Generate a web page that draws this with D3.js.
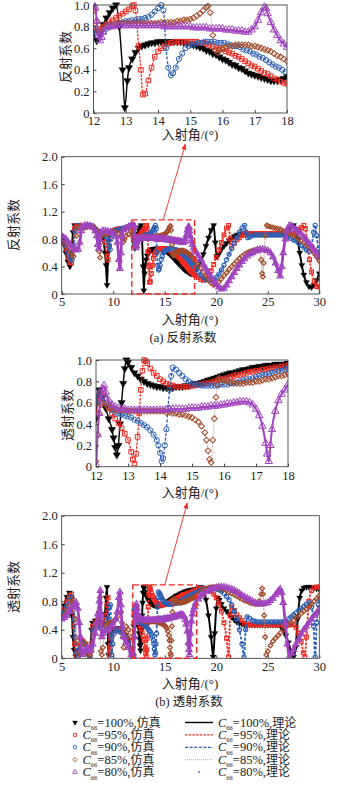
<!DOCTYPE html>
<html><head><meta charset="utf-8">
<script src="https://cdn.jsdelivr.net/npm/d3@7"></script>
<style>body{margin:0;background:#fff}svg{display:block}</style>
</head><body>
<script>
// ---------- DATA ----------
const seriesLabels = ['100%','95%','90%','85%','80%'];
const simWord = '仿真', theoWord = '理论';
const mainXTicks = [5,10,15,20,25,30];
const mainYTicks = [0,0.4,0.8,1.2,1.6,2.0];
const insetXTicks = [12,13,14,15,16,17,18];
const insetYTicks = [0,0.2,0.4,0.6,0.8,1.0];
const zoomBoxA = [11.8,17.9,0,1.08];
const zoomBoxB = [11.9,18.1,0,1.03];

// reflection coefficient [angle, value]
const R100 = [[5,.80],[5.2,.72],[5.4,.60],[5.6,.47],[5.8,.40],[5.95,.60],[6.1,.90],[6.25,1],[6.5,1],[6.75,.98],[7,.97],[7.25,.98],[7.5,1],[7.75,1],[8,.98],[8.25,.93],[8.5,.90],[8.75,.86],[9,.80],[9.2,.60],[9.3,.42],[9.4,.13],[9.5,.60],[9.6,.85],[9.75,.90],[10,.92],[10.25,.93],[10.5,.94],[10.75,.94],[11,.95],[11.25,.96],[11.5,.97],[11.75,.99],[11.9,1],
[12,.75],[12.1,.67],[12.2,.74],[12.3,.82],[12.4,.88],[12.5,.93],[12.6,.97],[12.7,1],[12.8,.80],[12.9,.40],[12.97,.05],[13.05,.30],[13.1,.42],[13.2,.50],[13.3,.56],[13.4,.60],[13.5,.62],[13.6,.63],[13.7,.64],[13.8,.65],[13.9,.65],[14,.66],[14.1,.66],[14.2,.66],[14.3,.66],[14.4,.66],[14.5,.66],[14.6,.66],[14.7,.66],[14.8,.65],[14.9,.65],[15,.64],[15.1,.63],[15.2,.62],[15.3,.61],[15.4,.60],[15.5,.58],[15.6,.57],[15.7,.55],[15.8,.54],[15.9,.52],[16,.50],[16.1,.49],[16.2,.47],[16.3,.45],[16.4,.44],[16.5,.42],[16.6,.41],[16.7,.39],[16.8,.37],[16.9,.36],[17,.35],[17.1,.34],[17.2,.33],[17.3,.32],[17.4,.31],[17.5,.30],[17.6,.30],[17.7,.30],[17.8,.31],[17.9,.32],[18,.34],
[18.25,.40],[18.5,.47],[18.75,.58],[19,.70],[19.25,.82],[19.5,.93],[19.75,1],[19.9,.75],[20.05,.55],[20.25,.58],[20.5,.65],[20.75,.70],[21,.74],[21.25,.78],[21.5,.81],[21.75,.84],[22,.86],[22.25,.87],[22.5,.88],[22.75,.88],[23,.88],[23.25,.88],[23.5,.88],[23.75,.88],[24,.88],[24.25,.88],[24.5,.88],[24.75,.88],[25,.88],[25.25,.88],[25.5,.88],[25.75,.88],[26,.88],[26.25,.88],[26.5,.88],[26.75,.90],[27,.93],[27.25,.97],[27.5,1],[27.7,.95],[27.9,.80],[28.1,.60],[28.3,.42],[28.5,.28],[28.75,.17],[29,.11],[29.25,.10],[29.5,.13],[29.75,.20],[30,.30]];

const R95 = [[5,.80],[5.2,.75],[5.4,.65],[5.6,.53],[5.8,.46],[5.95,.45],[6.1,.70],[6.25,.95],[6.4,1],[6.6,1],[6.8,.98],[7,.97],[7.25,.98],[7.5,1],[7.75,1],[8,.98],[8.25,.94],[8.5,.91],[8.75,.88],[9,.85],[9.25,.75],[9.4,.55],[9.5,.50],[9.6,.70],[9.75,.88],[10,.92],[10.25,.94],[10.5,.95],[10.75,.95],[11,.96],[11.25,.97],[11.5,.98],[11.75,1],[11.9,.85],
[12,.79],[12.1,.76],[12.2,.78],[12.3,.80],[12.4,.82],[12.5,.84],[12.6,.86],[12.7,.88],[12.8,.90],[12.9,.92],[13,.94],[13.1,.96],[13.2,.99],[13.25,1],[13.3,.95],[13.4,.62],[13.47,.40],[13.53,.17],[13.6,.18],[13.7,.30],[13.8,.42],[13.9,.52],[14,.57],[14.1,.60],[14.2,.62],[14.3,.64],[14.4,.65],[14.5,.66],[14.6,.66],[14.7,.66],[14.8,.66],[14.9,.66],[15,.66],[15.1,.66],[15.2,.66],[15.3,.65],[15.4,.65],[15.5,.64],[15.6,.63],[15.7,.62],[15.8,.61],[15.9,.60],[16,.59],[16.1,.57],[16.2,.56],[16.3,.55],[16.4,.53],[16.5,.52],[16.6,.50],[16.7,.48],[16.8,.46],[16.9,.44],[17,.43],[17.1,.41],[17.2,.39],[17.3,.37],[17.4,.36],[17.5,.34],[17.6,.32],[17.7,.31],[17.8,.29],[17.9,.28],[18,.27],
[18.25,.24],[18.5,.21],[18.75,.20],[19,.22],[19.25,.27],[19.5,.34],[19.75,.43],[20,.53],[20.25,.64],[20.5,.75],[20.75,.86],[21,.96],[21.2,1],[21.35,.80],[21.5,.70],[21.75,.74],[22,.79],[22.25,.82],[22.5,.85],[22.75,.87],[23,.88],[23.25,.88],[23.5,.88],[23.75,.88],[24,.88],[24.25,.88],[24.5,.88],[24.75,.88],[25,.88],[25.25,.88],[25.5,.88],[25.75,.88],[26,.88],[26.25,.88],[26.5,.88],[26.75,.88],[27,.88],[27.25,.88],[27.5,.88],[27.75,.90],[28,.94],[28.25,.97],[28.5,1],[28.65,.95],[28.85,.75],[29.05,.50],[29.25,.32],[29.5,.18],[29.75,.11],[30,.10]];

const R90 = [[5,.82],[5.2,.77],[5.4,.70],[5.6,.60],[5.8,.52],[6,.50],[6.15,.70],[6.3,.92],[6.5,1],[6.75,1],[7,.97],[7.25,.97],[7.5,.99],[7.75,1],[8,.99],[8.25,.95],[8.5,.92],[8.75,.90],[9,.88],[9.25,.85],[9.4,.82],[9.5,.78],[9.6,.70],[9.7,.65],[9.8,.80],[10,.90],[10.25,.93],[10.5,.94],[10.75,.95],[11,.96],[11.25,.97],[11.5,.98],[11.75,1],[11.9,.88],
[12,.78],[12.1,.74],[12.2,.73],[12.3,.75],[12.4,.78],[12.5,.80],[12.6,.81],[12.7,.82],[12.8,.83],[12.9,.84],[13,.85],[13.1,.85],[13.2,.86],[13.3,.86],[13.4,.87],[13.5,.87],[13.6,.88],[13.7,.89],[13.8,.91],[13.9,.94],[14,.97],[14.1,1],[14.17,.95],[14.25,.60],[14.32,.42],[14.4,.35],[14.47,.37],[14.55,.42],[14.65,.50],[14.75,.55],[14.85,.60],[14.95,.62],[15.05,.63],[15.15,.64],[15.25,.65],[15.35,.65],[15.45,.66],[15.55,.66],[15.65,.66],[15.75,.66],[15.85,.65],[15.95,.65],[16.05,.65],[16.15,.64],[16.25,.63],[16.35,.62],[16.45,.62],[16.55,.61],[16.65,.59],[16.75,.58],[16.85,.57],[16.95,.55],[17.05,.54],[17.15,.52],[17.25,.51],[17.35,.49],[17.45,.47],[17.55,.45],[17.65,.43],[17.75,.42],[17.85,.40],[17.95,.38],[18.05,.36],
[18.25,.33],[18.5,.28],[18.75,.24],[19,.21],[19.25,.20],[19.5,.20],[19.75,.21],[20,.24],[20.25,.29],[20.5,.35],[20.75,.42],[21,.50],[21.25,.58],[21.5,.66],[21.75,.74],[22,.82],[22.25,.90],[22.5,.96],[22.75,1],[22.9,.90],[23.05,.82],[23.25,.83],[23.5,.85],[23.75,.86],[24,.86],[24.25,.86],[24.5,.86],[24.75,.86],[25,.86],[25.25,.86],[25.5,.86],[25.75,.86],[26,.86],[26.25,.86],[26.5,.86],[26.75,.85],[27,.83],[27.25,.81],[27.5,.79],[27.75,.77],[28,.74],[28.25,.71],[28.5,.68],[28.75,.64],[29,.62],[29.25,.70],[29.45,.90],[29.6,1],[29.75,.85],[29.9,.65],[30,.55]];

const R85 = [[5,.83],[5.2,.80],[5.4,.75],[5.6,.68],[5.8,.61],[6,.56],[6.15,.55],[6.3,.65],[6.45,.85],[6.6,.97],[6.8,1],[7,.98],[7.25,.97],[7.5,.98],[7.75,1],[8,.99],[8.25,.96],[8.4,.92],[8.55,.80],[8.65,.62],[8.72,.53],[8.8,.75],[8.9,.85],[9,.86],[9.25,.87],[9.5,.88],[9.75,.89],[10,.90],[10.25,.90],[10.5,.88],[10.75,.85],[10.9,.80],[11,.76],[11.1,.80],[11.25,.85],[11.5,.87],[11.75,.90],[11.9,.95],
[12,.97],[12.05,.95],[12.1,.85],[12.15,.76],[12.25,.78],[12.35,.81],[12.5,.82],[12.6,.82],[12.7,.83],[12.8,.83],[12.9,.83],[13,.83],[13.1,.83],[13.2,.83],[13.3,.83],[13.4,.83],[13.5,.83],[13.6,.83],[13.7,.83],[13.8,.83],[13.9,.83],[14,.83],[14.1,.84],[14.2,.84],[14.3,.84],[14.4,.84],[14.5,.84],[14.6,.85],[14.7,.85],[14.8,.86],[14.9,.86],[15,.87],[15.1,.88],[15.2,.90],[15.3,.92],[15.4,.95],[15.5,.98],[15.55,.99],[15.62,.93],[15.7,.72],[15.78,.58],[15.85,.56],[15.92,.58],[16,.60],[16.1,.61],[16.2,.62],[16.3,.62],[16.4,.63],[16.5,.63],[16.6,.63],[16.7,.63],[16.8,.63],[16.9,.62],[17,.62],[17.1,.61],[17.2,.60],[17.3,.59],[17.4,.58],[17.5,.57],[17.6,.55],[17.7,.53],[17.8,.52],[17.9,.50],[18,.48],
[18.25,.43],[18.5,.38],[18.75,.32],[19,.26],[19.25,.20],[19.5,.16],[19.75,.13],[20,.14],[20.25,.17],[20.5,.22],[20.75,.27],[21,.31],[21.25,.36],[21.5,.40],[21.75,.44],[22,.48],[22.25,.52],[22.5,.55],[22.75,.58],[23,.60],[23.25,.62],[23.5,.63],[23.75,.64],[24,.65],[24.2,.64],[24.35,.50],[24.45,.30],[24.52,.25],[24.6,.45],[24.75,.85],[24.9,1],[25,.99],[25.25,.98],[25.5,.97],[25.75,.96],[26,.95],[26.25,.94],[26.5,.92],[26.75,.91],[27,.89],[27.25,.87],[27.5,.85],[27.75,.83],[28,.80],[28.25,.78],[28.5,.75],[28.75,.72],[29,.68],[29.25,.64],[29.5,.59],[29.75,.54],[30,.48]];

const R80 = [[5,.84],[5.2,.82],[5.4,.80],[5.6,.76],[5.8,.72],[6,.68],[6.2,.65],[6.4,.64],[6.6,.65],[6.75,.75],[6.9,.92],[7,.98],[7.25,1],[7.5,1],[7.75,.99],[8,.97],[8.25,.92],[8.4,.85],[8.5,.72],[8.6,.66],[8.7,.80],[8.8,.90],[9,.92],[9.25,.92],[9.5,.91],[9.75,.90],[10,.88],[10.25,.84],[10.4,.75],[10.55,.50],[10.65,.37],[10.75,.60],[10.85,.85],[11,.93],[11.25,.96],[11.5,.98],[11.75,1],
[12,1],[12.05,.98],[12.1,.85],[12.15,.72],[12.2,.67],[12.25,.70],[12.3,.75],[12.4,.79],[12.5,.80],[12.6,.80],[12.7,.81],[12.8,.81],[12.9,.81],[13,.81],[13.1,.81],[13.2,.81],[13.3,.81],[13.4,.81],[13.5,.81],[13.6,.81],[13.7,.81],[13.8,.81],[13.9,.81],[14,.81],[14.1,.81],[14.2,.80],[14.3,.80],[14.4,.80],[14.5,.80],[14.6,.80],[14.7,.80],[14.8,.80],[14.9,.80],[15,.80],[15.1,.79],[15.2,.79],[15.3,.79],[15.4,.79],[15.5,.79],[15.6,.78],[15.7,.78],[15.8,.78],[15.9,.78],[16,.78],[16.1,.77],[16.2,.77],[16.3,.77],[16.4,.76],[16.5,.76],[16.6,.76],[16.7,.75],[16.8,.75],[16.9,.77],[17,.80],[17.1,.86],[17.2,.93],[17.3,.98],[17.35,.97],[17.4,.92],[17.5,.84],[17.6,.77],[17.7,.72],[17.8,.67],[17.9,.64],[18,.61],
[18.25,.56],[18.5,.50],[18.75,.43],[19,.37],[19.25,.31],[19.5,.25],[19.75,.19],[20,.14],[20.25,.10],[20.5,.07],[20.75,.08],[21,.13],[21.25,.19],[21.5,.25],[21.75,.31],[22,.37],[22.25,.42],[22.5,.47],[22.75,.51],[23,.55],[23.25,.58],[23.5,.60],[23.75,.62],[24,.64],[24.25,.65],[24.5,.65],[24.75,.64],[25,.63],[25.25,.60],[25.5,.54],[25.75,.45],[26,.34],[26.2,.26],[26.35,.40],[26.5,.60],[26.7,.80],[26.9,.93],[27.1,1],[27.3,.99],[27.5,.96],[27.75,.93],[28,.90],[28.25,.87],[28.5,.83],[28.75,.79],[29,.74],[29.25,.69],[29.5,.64],[29.75,.60],[30,.55]];

// transmission coefficient [angle, value]
const T100 = [[5,.62],[5.25,.74],[5.5,.86],[5.75,.92],[5.9,.85],[6,.60],[6.1,.30],[6.2,.12],[6.35,.03],[6.5,.08],[6.75,.18],[7,.24],[7.25,.20],[7.5,.10],[7.65,.02],[7.8,.15],[7.9,.40],[8,.50],[8.25,.53],[8.5,.52],[8.75,.50],[9,.48],[9.2,.62],[9.3,.85],[9.4,1],[9.45,.60],[9.5,.20],[9.55,.05],[9.65,.20],[9.8,.35],[10,.40],[10.25,.42],[10.5,.42],[10.75,.40],[11,.38],[11.25,.33],[11.5,.25],[11.75,.12],[11.9,.03],
[12,.45],[12.05,.65],[12.1,.72],[12.2,.65],[12.3,.55],[12.4,.45],[12.5,.35],[12.55,.27],[12.6,.18],[12.65,.11],[12.7,.20],[12.75,.40],[12.8,.60],[12.85,.78],[12.9,.92],[12.95,1],[13,.98],[13.1,.93],[13.2,.88],[13.3,.85],[13.4,.82],[13.5,.80],[13.6,.78],[13.7,.77],[13.8,.76],[13.9,.75],[14,.75],[14.1,.74],[14.2,.74],[14.3,.74],[14.4,.74],[14.5,.75],[14.6,.75],[14.7,.75],[14.8,.76],[14.9,.76],[15,.77],[15.1,.78],[15.2,.78],[15.3,.79],[15.4,.80],[15.5,.81],[15.6,.82],[15.7,.83],[15.8,.84],[15.9,.85],[16,.86],[16.1,.87],[16.2,.88],[16.3,.88],[16.4,.89],[16.5,.90],[16.6,.91],[16.7,.91],[16.8,.92],[16.9,.93],[17,.93],[17.1,.94],[17.2,.94],[17.3,.95],[17.4,.95],[17.5,.95],[17.6,.96],[17.7,.96],[17.8,.96],[17.9,.96],[18,.97],
[18.25,.98],[18.5,1],[18.75,.96],[19,.82],[19.25,.60],[19.5,.30],[19.7,.02],[19.85,.35],[20,.70],[20.15,.85],[20.3,.82],[20.5,.76],[20.75,.70],[21,.66],[21.25,.62],[21.5,.58],[21.75,.54],[22,.51],[22.25,.49],[22.5,.48],[22.75,.47],[23,.47],[23.25,.47],[23.5,.47],[23.75,.47],[24,.47],[24.25,.47],[24.5,.47],[24.75,.47],[25,.47],[25.25,.47],[25.5,.47],[25.75,.47],[26,.47],[26.25,.45],[26.5,.40],[26.75,.32],[27,.22],[27.25,.10],[27.5,.02],[27.7,.15],[27.9,.55],[28.1,.85],[28.3,.95],[28.5,.99],[28.75,1],[29,1],[29.25,1],[29.5,.99],[29.75,.98],[30,.97]];

const T95 = [[5,.60],[5.25,.68],[5.5,.80],[5.75,.88],[5.95,.90],[6.05,.75],[6.15,.45],[6.25,.20],[6.4,.05],[6.6,.06],[6.8,.18],[7,.24],[7.25,.20],[7.5,.08],[7.7,.02],[7.85,.20],[8,.45],[8.25,.50],[8.5,.48],[8.75,.47],[9,.50],[9.25,.60],[9.4,.75],[9.5,.85],[9.55,.40],[9.6,.05],[9.7,.15],[9.85,.30],[10,.38],[10.25,.40],[10.5,.40],[10.75,.38],[11,.36],[11.25,.32],[11.5,.25],[11.75,.10],[11.85,.02],
[12,.50],[12.05,.60],[12.1,.66],[12.15,.70],[12.2,.67],[12.3,.60],[12.4,.55],[12.5,.50],[12.6,.45],[12.7,.41],[12.8,.36],[12.9,.31],[13,.25],[13.1,.14],[13.15,.07],[13.2,.03],[13.25,.12],[13.3,.28],[13.35,.50],[13.4,.72],[13.45,.90],[13.5,1],[13.55,.99],[13.6,.97],[13.7,.92],[13.8,.88],[13.9,.85],[14,.82],[14.1,.80],[14.2,.78],[14.3,.77],[14.4,.76],[14.5,.75],[14.6,.75],[14.7,.75],[14.8,.75],[14.9,.75],[15,.76],[15.1,.76],[15.2,.77],[15.3,.77],[15.4,.78],[15.5,.78],[15.6,.79],[15.7,.80],[15.8,.81],[15.9,.82],[16,.82],[16.1,.83],[16.2,.84],[16.3,.85],[16.4,.86],[16.5,.86],[16.6,.87],[16.7,.88],[16.8,.89],[16.9,.89],[17,.90],[17.1,.90],[17.2,.91],[17.3,.91],[17.4,.92],[17.5,.92],[17.6,.93],[17.7,.93],[17.8,.94],[17.9,.94],[18,.95],
[18.25,.97],[18.5,.98],[18.75,.98],[19,.97],[19.25,.96],[19.5,.94],[19.75,.90],[20,.85],[20.25,.77],[20.5,.66],[20.75,.50],[21,.28],[21.2,.02],[21.35,.60],[21.5,.72],[21.75,.67],[22,.61],[22.25,.57],[22.5,.53],[22.75,.49],[23,.48],[23.25,.47],[23.5,.47],[23.75,.47],[24,.47],[24.25,.47],[24.5,.47],[24.75,.47],[25,.47],[25.25,.47],[25.5,.47],[25.75,.47],[26,.47],[26.25,.47],[26.5,.47],[26.75,.47],[27,.47],[27.25,.47],[27.5,.47],[27.75,.43],[28,.35],[28.25,.24],[28.45,.08],[28.6,.02],[28.75,.30],[29,.80],[29.25,.95],[29.5,.99],[29.75,1],[30,1]];

const T90 = [[5,.58],[5.25,.65],[5.5,.73],[5.75,.82],[6,.86],[6.1,.78],[6.2,.55],[6.3,.30],[6.45,.08],[6.6,.03],[6.8,.14],[7,.22],[7.25,.20],[7.5,.10],[7.75,.03],[7.9,.15],[8.05,.40],[8.25,.45],[8.5,.43],[8.75,.42],[9,.43],[9.25,.48],[9.5,.55],[9.65,.72],[9.72,.75],[9.8,.30],[9.85,.05],[9.95,.20],[10.1,.35],[10.25,.40],[10.5,.38],[10.75,.36],[11,.33],[11.25,.30],[11.5,.22],[11.75,.08],[11.85,.02],
[12,.60],[12.05,.70],[12.1,.68],[12.2,.65],[12.3,.60],[12.4,.56],[12.5,.53],[12.6,.51],[12.7,.50],[12.8,.49],[12.9,.48],[13,.47],[13.1,.46],[13.2,.44],[13.3,.43],[13.4,.41],[13.5,.39],[13.6,.37],[13.7,.34],[13.8,.30],[13.9,.25],[13.95,.20],[14,.13],[14.05,.05],[14.1,.08],[14.15,.20],[14.2,.35],[14.25,.55],[14.3,.72],[14.35,.85],[14.4,.93],[14.5,.91],[14.6,.88],[14.7,.85],[14.8,.82],[14.9,.80],[15,.78],[15.1,.77],[15.2,.77],[15.3,.76],[15.4,.76],[15.5,.76],[15.6,.76],[15.7,.76],[15.8,.76],[15.9,.77],[16,.77],[16.1,.77],[16.2,.78],[16.3,.78],[16.4,.79],[16.5,.80],[16.6,.81],[16.7,.82],[16.8,.82],[16.9,.83],[17,.84],[17.1,.85],[17.2,.86],[17.3,.86],[17.4,.87],[17.5,.88],[17.6,.89],[17.7,.90],[17.8,.90],[17.9,.91],[18,.92],
[18.25,.94],[18.5,.96],[18.75,.97],[19,.98],[19.25,.98],[19.5,.98],[19.75,.98],[20,.97],[20.25,.96],[20.5,.94],[20.75,.91],[21,.87],[21.25,.82],[21.5,.75],[21.75,.66],[22,.55],[22.25,.40],[22.5,.20],[22.7,.02],[22.85,.40],[23,.58],[23.25,.56],[23.5,.53],[23.75,.52],[24,.51],[24.25,.51],[24.5,.51],[24.75,.51],[25,.51],[25.25,.51],[25.5,.51],[25.75,.51],[26,.51],[26.25,.51],[26.5,.51],[26.75,.52],[27,.55],[27.25,.58],[27.5,.61],[27.75,.64],[28,.67],[28.25,.70],[28.5,.73],[28.75,.76],[29,.78],[29.25,.72],[29.45,.45],[29.6,.02],[29.75,.50],[29.9,.75],[30,.83]];

const T85 = [[5,.56],[5.25,.60],[5.5,.66],[5.75,.73],[6,.80],[6.15,.82],[6.25,.75],[6.35,.55],[6.5,.25],[6.65,.08],[6.8,.05],[7,.18],[7.25,.22],[7.5,.14],[7.75,.04],[7.9,.10],[8.1,.35],[8.3,.45],[8.45,.55],[8.6,.65],[8.7,.85],[8.75,.50],[8.8,.10],[8.9,.05],[9,.15],[9.25,.45],[9.5,.50],[9.75,.50],[10,.52],[10.25,.55],[10.5,.60],[10.75,.65],[10.85,.50],[10.95,.30],[11,.15],[11.1,.35],[11.25,.45],[11.5,.40],[11.75,.30],[11.9,.15],
[12,.05],[12.05,.30],[12.1,.50],[12.15,.58],[12.2,.60],[12.3,.58],[12.4,.56],[12.5,.55],[12.6,.54],[12.7,.53],[12.8,.53],[12.9,.53],[13,.52],[13.1,.52],[13.2,.52],[13.3,.52],[13.4,.52],[13.5,.52],[13.6,.52],[13.7,.52],[13.8,.52],[13.9,.52],[14,.52],[14.1,.52],[14.2,.51],[14.3,.51],[14.4,.50],[14.5,.50],[14.6,.49],[14.7,.49],[14.8,.48],[14.9,.47],[15,.46],[15.1,.44],[15.2,.42],[15.3,.38],[15.4,.32],[15.45,.25],[15.5,.15],[15.55,.07],[15.6,.04],[15.65,.25],[15.7,.45],[15.75,.65],[15.8,.77],[15.85,.83],[15.9,.82],[16,.81],[16.1,.80],[16.2,.79],[16.3,.79],[16.4,.78],[16.5,.78],[16.6,.78],[16.7,.79],[16.8,.79],[16.9,.79],[17,.80],[17.1,.80],[17.2,.81],[17.3,.82],[17.4,.82],[17.5,.83],[17.6,.84],[17.7,.85],[17.8,.85],[17.9,.86],[18,.87],
[18.25,.90],[18.5,.93],[18.75,.96],[19,.98],[19.25,.99],[19.5,1],[19.75,1],[20,1],[20.25,.99],[20.5,.98],[20.75,.97],[21,.95],[21.25,.93],[21.5,.91],[21.75,.89],[22,.87],[22.25,.85],[22.5,.83],[22.75,.81],[23,.80],[23.25,.78],[23.5,.77],[23.75,.76],[24,.76],[24.2,.80],[24.35,.90],[24.45,.98],[24.55,.90],[24.65,.60],[24.75,.30],[24.85,.05],[25,.10],[25.25,.18],[25.5,.24],[25.75,.28],[26,.32],[26.25,.36],[26.5,.40],[26.75,.44],[27,.47],[27.25,.50],[27.5,.53],[27.75,.57],[28,.60],[28.25,.63],[28.5,.66],[28.75,.69],[29,.72],[29.25,.76],[29.5,.80],[29.75,.84],[30,.88]];

const T80 = [[5,.55],[5.25,.57],[5.5,.60],[5.75,.65],[6,.72],[6.25,.76],[6.4,.78],[6.55,.70],[6.7,.50],[6.8,.30],[6.9,.12],[7,.05],[7.25,.10],[7.5,.15],[7.75,.10],[8,.20],[8.25,.35],[8.4,.50],[8.5,.62],[8.65,.80],[8.75,.95],[8.82,.60],[8.9,.30],[9,.35],[9.25,.38],[9.5,.40],[9.75,.43],[10,.47],[10.25,.55],[10.4,.65],[10.55,.85],[10.65,.93],[10.75,.75],[10.85,.45],[11,.30],[11.25,.22],[11.5,.15],[11.75,.05],[11.9,.02],
[12,.02],[12.05,.30],[12.1,.50],[12.15,.65],[12.2,.73],[12.25,.76],[12.3,.70],[12.4,.62],[12.5,.58],[12.6,.56],[12.7,.55],[12.8,.54],[12.9,.54],[13,.53],[13.1,.53],[13.2,.53],[13.3,.53],[13.4,.53],[13.5,.53],[13.6,.53],[13.7,.53],[13.8,.53],[13.9,.53],[14,.53],[14.1,.53],[14.2,.53],[14.3,.54],[14.4,.54],[14.5,.54],[14.6,.54],[14.7,.54],[14.8,.54],[14.9,.55],[15,.55],[15.1,.55],[15.2,.55],[15.3,.56],[15.4,.56],[15.5,.56],[15.6,.57],[15.7,.57],[15.8,.57],[15.9,.58],[16,.58],[16.1,.59],[16.2,.59],[16.3,.60],[16.4,.60],[16.5,.61],[16.6,.61],[16.7,.61],[16.8,.60],[16.9,.58],[17,.54],[17.1,.48],[17.2,.38],[17.3,.22],[17.35,.12],[17.4,.05],[17.45,.20],[17.5,.35],[17.6,.52],[17.7,.62],[17.8,.68],[17.9,.72],[18,.77],
[18.25,.83],[18.5,.87],[18.75,.90],[19,.93],[19.25,.95],[19.5,.97],[19.75,.98],[20,.99],[20.25,1],[20.5,1],[20.75,1],[21,.99],[21.25,.98],[21.5,.97],[21.75,.95],[22,.93],[22.25,.91],[22.5,.88],[22.75,.86],[23,.84],[23.25,.82],[23.5,.80],[23.75,.78],[24,.77],[24.25,.76],[24.5,.76],[24.75,.77],[25,.78],[25.25,.81],[25.5,.84],[25.75,.89],[26,.94],[26.2,.97],[26.35,.92],[26.5,.78],[26.7,.50],[26.9,.20],[27.1,.02],[27.3,.07],[27.5,.12],[27.75,.20],[28,.27],[28.25,.34],[28.5,.40],[28.75,.45],[29,.50],[29.25,.55],[29.5,.60],[29.75,.64],[30,.68]];

const reflSeries = [R100,R95,R90,R85,R80];
const transSeries = [T100,T95,T90,T85,T80];

// ---------- STYLE ----------
const colors = ['#000000','#ee2a22','#2c5fb4','#a24a2a','#a043bf'];
const lineStyles = [
  {w:1.3, dash:null, color:'#000000', cap:'butt'},
  {w:1.2, dash:'2.5,1.2', color:'#ee2a22', cap:'butt'},
  {w:1.2, dash:'3,1.6', color:'#2c5fb4', cap:'butt'},
  {w:0.8, dash:'1,1', color:'#b08a7c', cap:'butt'},
  {w:2.0, dash:'0.1,1.5', color:'#a043bf', cap:'round'}
];
const symTypes = [d3.symbolTriangle, d3.symbolSquare, d3.symbolCircle, d3.symbolSquare, d3.symbolTriangle];
const symRot = [180,0,0,45,0];
const symFilled = [true,false,false,false,false];
const SERIF = "'Liberation Serif','Times New Roman','Noto Sans CJK SC',serif";
const CJK = "'Noto Sans CJK SC','Liberation Serif',sans-serif";

const W = 357, H = 789;
const svg = d3.select('body').append('svg').attr('width',W).attr('height',H)
  .attr('font-family',SERIF);
svg.append('rect').attr('width',W).attr('height',H).attr('fill','#fff');
const defs = svg.append('defs');
defs.append('marker').attr('id','arr').attr('viewBox','0 0 10 10').attr('refX',9).attr('refY',5)
  .attr('markerWidth',7).attr('markerHeight',7).attr('orient','auto-start-reverse')
  .append('path').attr('d','M0,1 L10,5 L0,9 Z').attr('fill','#ee2a22');

let clipId = 0;
function panel(cfg){
  const x = d3.scaleLinear().domain(cfg.xd).range([cfg.left,cfg.right]);
  const y = d3.scaleLinear().domain(cfg.yd).range([cfg.bottom,cfg.top]);
  const id = 'clip'+(clipId++);
  defs.append('clipPath').attr('id',id).append('rect')
    .attr('x',cfg.left).attr('y',cfg.top-3).attr('width',cfg.right-cfg.left).attr('height',cfg.bottom-cfg.top+3);
  const g = svg.append('g');
  const plot = g.append('g').attr('clip-path',`url(#${id})`);
  const line = d3.line().x(d=>x(d[0])).y(d=>y(d[1])).curve(d3.curveMonotoneX);
  const [xa,xb] = cfg.xd;
  cfg.data.forEach((ser,i)=>{
    const pts = ser.filter(d=>d[0]>=xa-0.3 && d[0]<=xb+0.3);
    const ls = lineStyles[i];
    plot.append('path').attr('d',line(pts)).attr('fill','none')
      .attr('stroke',ls.color).attr('stroke-width',ls.w*cfg.lwScale)
      .attr('stroke-dasharray',ls.dash).attr('stroke-linecap',ls.cap);
    const sym = d3.symbol().type(symTypes[i]).size(cfg.mSize*(i===3?0.8:1)*(i===0||i===4?1.15:1));
    plot.selectAll(null).data(pts.filter(d=>d[0]>=xa && d[0]<=xb)).join('path')
      .attr('d',sym)
      .attr('transform',d=>`translate(${x(d[0])},${y(d[1])}) rotate(${symRot[i]})`)
      .attr('fill',symFilled[i]?colors[i]:'none')
      .attr('stroke',colors[i]).attr('stroke-width',symFilled[i]?0.3:cfg.mStroke);
  });
  // frame & axes
  g.append('rect').attr('x',cfg.left).attr('y',cfg.top).attr('width',cfg.right-cfg.left)
    .attr('height',cfg.bottom-cfg.top).attr('fill','none').attr('stroke','#444').attr('stroke-width',0.9);
  const fmt = d=> d===0?'0':d3.format('.1f')(d);
  const ax = g.append('g').attr('transform',`translate(0,${cfg.bottom})`)
    .call(d3.axisBottom(x).tickValues(cfg.xt).tickSize(-3).tickPadding(cfg.xpad).tickFormat(d3.format('d')));
  const ay = g.append('g').attr('transform',`translate(${cfg.left},0)`)
    .call(d3.axisLeft(y).tickValues(cfg.yt).tickSize(-3).tickPadding(4).tickFormat(fmt));
  [ax,ay].forEach(a=>{
    a.select('.domain').remove();
    a.selectAll('line').attr('stroke','#444');
    a.selectAll('text').attr('font-family',SERIF).attr('font-size',12.5).attr('fill','#222');
  });
  // axis titles
  const xl = g.append('text').attr('x',cfg.xlx).attr('y',cfg.xly).attr('text-anchor','middle')
    .attr('font-size',13).attr('fill','#222');
  xl.append('tspan').attr('font-family',CJK).text('入射角');
  xl.append('tspan').attr('font-family',SERIF).text('/(°)');
  g.append('text').attr('transform',`translate(${cfg.ylx},${cfg.yly}) rotate(-90)`)
    .attr('text-anchor','middle').attr('dominant-baseline','central')
    .attr('font-family',CJK).attr('font-size',13).attr('fill','#222').text(cfg.ylabel);
  return {x,y,g};
}

// ---------- PANELS ----------
const insetA = panel({left:93.5,right:287,top:5,bottom:113,xd:[12,18],yd:[0,1],xt:insetXTicks,yt:insetYTicks,
  data:reflSeries,mSize:21,mStroke:1,lwScale:1.1,xpad:3,xlx:190,xly:139,ylx:64,yly:57,ylabel:'反射系数'});
const mainA = panel({left:61.7,right:319.3,top:156.7,bottom:294,xd:[5,30],yd:[0,2],xt:mainXTicks,yt:mainYTicks,
  data:reflSeries,mSize:14,mStroke:1.2,lwScale:1.5,xpad:3,xlx:190,xly:324,ylx:12,yly:225,ylabel:'反射系数'});
const insetB = panel({left:96,right:288,top:360,bottom:466.7,xd:[12,18],yd:[0,1],xt:insetXTicks,yt:insetYTicks,
  data:transSeries,mSize:21,mStroke:1,lwScale:1.1,xpad:4,xlx:190,xly:497,ylx:66,yly:415,ylabel:'透射系数'});
const mainB = panel({left:61.7,right:319.3,top:515.7,bottom:658.3,xd:[5,30],yd:[0,2],xt:mainXTicks,yt:mainYTicks,
  data:transSeries,mSize:14,mStroke:1.2,lwScale:1.5,xpad:4,xlx:190,xly:688,ylx:12,yly:587,ylabel:'透射系数'});

// zoom boxes and arrows
function zoomBox(p, b, inset, ax, tipY){
  const x0=p.x(b[0]), x1=p.x(b[1]), y0=p.y(b[2]), y1=p.y(b[3]);
  svg.append('rect').attr('x',x0).attr('y',y1).attr('width',x1-x0).attr('height',y0-y1)
    .attr('fill','none').attr('stroke','#ee2a22').attr('stroke-width',1.4).attr('stroke-dasharray','6,3');
  svg.append('line').attr('x1',p.x(ax)).attr('y1',y1).attr('x2',inset.x(14.85)).attr('y2',tipY)
    .attr('stroke','#ee2a22').attr('stroke-width',0.9).attr('marker-end','url(#arr)');
}
zoomBox(mainA, zoomBoxA, insetA, 14.85, 144);
zoomBox(mainB, zoomBoxB, insetB, 15.0, 503);

// captions
function caption(cx, cy, tag, word){
  const t = svg.append('text').attr('x',cx).attr('y',cy).attr('text-anchor','middle').attr('font-size',12.5).attr('fill','#222');
  t.append('tspan').attr('font-family',SERIF).text(tag+' ');
  t.append('tspan').attr('font-family',CJK).text(word);
}
caption(183,342,'(a)','反射系数');
caption(189,706,'(b)','透射系数');

// ---------- LEGEND ----------
const legY = [722.5,734.9,747.3,759.7,772.1];
const leg = svg.append('g');
function legText(x, y, pct, word){
  const t = leg.append('text').attr('x',x).attr('y',y+4).attr('font-size',12.5).attr('fill','#222').attr('font-family',SERIF);
  t.append('tspan').attr('font-style','italic').text('C');
  t.append('tspan').attr('font-size',6.5).attr('dy',3.5).text('66');
  t.append('tspan').attr('dy',-3.5).text('='+pct+',');
  t.append('tspan').attr('font-family',CJK).attr('font-size',12).text(word);
}
seriesLabels.forEach((lab,i)=>{
  const yy = legY[i];
  const sym = d3.symbol().type(symTypes[i]).size(i===0?11:9);
  leg.append('path').attr('d',sym).attr('transform',`translate(75,${yy}) rotate(${symRot[i]})`)
    .attr('fill',symFilled[i]?colors[i]:'none').attr('stroke',colors[i]).attr('stroke-width',symFilled[i]?0.3:0.9);
  legText(82.5, yy, lab, simWord);
  const ls = lineStyles[i];
  if(i===4){
    leg.append('circle').attr('cx',199).attr('cy',yy).attr('r',1).attr('fill',ls.color);
  } else {
    leg.append('line').attr('x1',185).attr('x2',213).attr('y1',yy).attr('y2',yy)
      .attr('stroke',ls.color).attr('stroke-width',i===0?1.4:ls.w).attr('stroke-dasharray',ls.dash);
  }
  legText(218, yy, lab, theoWord);
});
</script>
</body></html>
